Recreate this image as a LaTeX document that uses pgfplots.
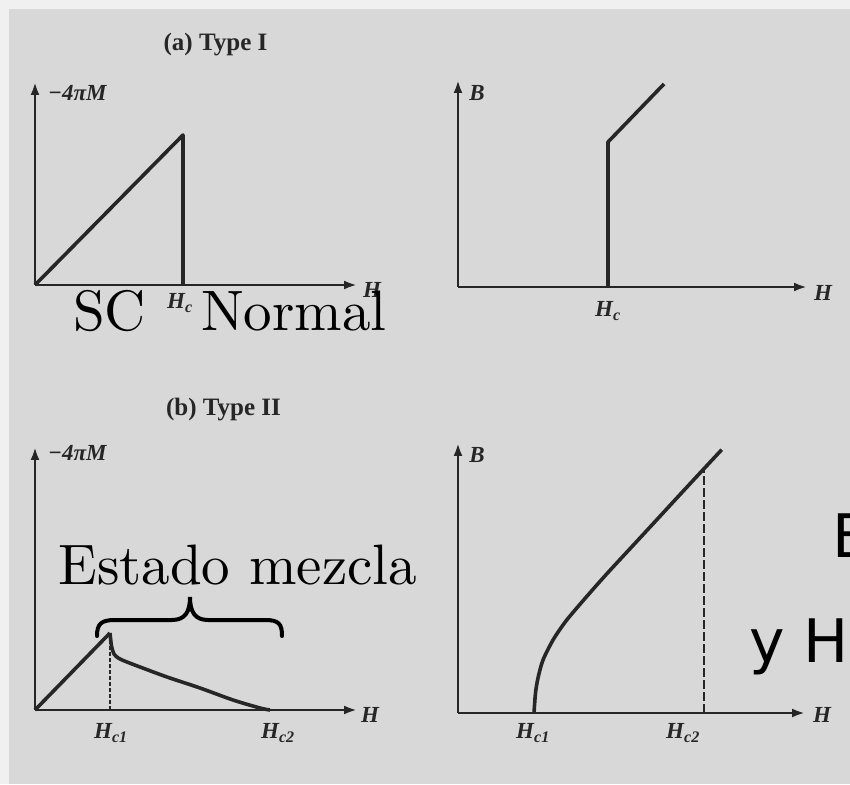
\documentclass[border=0pt]{standalone}
\usepackage{fontspec}
\usepackage{pgfplots}
\pgfplotsset{compat=1.18}
\usetikzlibrary{arrows.meta}

\newfontfamily\scanfont{Liberation Serif}
\newfontfamily\sansover{DejaVu Sans}
\newfontfamily\lmten{lmroman10-regular.otf}

\definecolor{paper}{HTML}{D8D8D8}
\definecolor{margin}{HTML}{F0F0F0}
\definecolor{ink}{HTML}{262626}

% labels of the printed figure
\newcommand{\lbl}[1]{{\scanfont\bfseries\itshape\fontsize{23}{25}\selectfont #1}}
\newcommand{\ttl}[1]{{\scanfont\bfseries\fontsize{25}{27}\selectfont #1}}
% hand-added annotations
\newcommand{\bigserif}[1]{{\lmten\fontsize{57}{61}\selectfont #1}}
\newcommand{\bigsans}[1]{{\sansover\fontsize{60}{64}\selectfont #1}}

\pgfplotsset{
  panel/.style={
    scale only axis, anchor=south west,
    axis lines=left, xmin=0, ymin=0,
    xtick=\empty, ytick=\empty, clip=false,
    axis line style={line width=2.6pt, draw=ink,
      -{Latex[length=13pt,width=9pt]}},
  },
  curve/.style={ink, line width=3.6pt, line join=round, no marks},
  guide/.style={ink, line width=1.8pt, no marks},
}

\begin{document}
\begin{tikzpicture}
\useasboundingbox (0pt,0pt) rectangle (850pt,784pt);
\clip (0pt,0pt) rectangle (850pt,784pt);
\fill[paper] (0pt,0pt) rectangle (850pt,784pt);
\fill[margin] (0pt,775pt) rectangle (850pt,784pt);
\fill[margin] (0pt,0pt) rectangle (9pt,784pt);

\tikzset{every node/.style={inner sep=0pt, text=ink}}

% (a) Type I: magnetization
\begin{axis}[panel, at={(35pt,499pt)}, width=322pt, height=203pt,
  xmax=322, ymax=203]
  \addplot[curve] coordinates {(0,0) (148,150) (148,0)};
  \node at (axis cs:180.5,240) {\ttl{(a) Type I}};
  \node[anchor=west] at (axis cs:13,192) {\lbl{−4πM}};
  \node at (axis cs:337,-5) {\lbl{H}};
  \node at (axis cs:145,-18) {\lbl{H\textsubscript{c}}};
\end{axis}

% (a) Type I: induction
\begin{axis}[panel, at={(458pt,497pt)}, width=349pt, height=207pt,
  xmax=349, ymax=207]
  \addplot[curve] coordinates {(150,0) (150,145) (206,203)};
  \node at (axis cs:19,194) {\lbl{B}};
  \node at (axis cs:365,-6) {\lbl{H}};
  \node at (axis cs:150,-24) {\lbl{H\textsubscript{c}}};
\end{axis}

% (b) Type II: magnetization
\begin{axis}[panel, at={(35pt,74pt)}, width=322pt, height=263pt,
  xmax=322, ymax=263]
  \addplot[curve] coordinates {(0,0) (75,77)};
  \addplot[curve, smooth] coordinates {(75,77) (76.5,64) (79,56) (84,51.5)
    (92,48) (105,43) (132,33) (165,22) (198,10) (225,2) (235,0)};
  \addplot[guide, dash pattern=on 4pt off 2pt] coordinates {(75,0) (75,77)};
  \node at (axis cs:188.5,300) {\ttl{(b) Type II}};
  \node[anchor=west] at (axis cs:13,257) {\lbl{−4πM}};
  \node at (axis cs:335,-5) {\lbl{H}};
  \node at (axis cs:76,-23) {\lbl{H\textsubscript{c1}}};
  \node at (axis cs:243,-23) {\lbl{H\textsubscript{c2}}};
\end{axis}

% (b) Type II: induction
\begin{axis}[panel, at={(458pt,71pt)}, width=347pt, height=270pt,
  xmax=347, ymax=270]
  \addplot[curve, smooth] coordinates {(76,0) (77.5,20) (80,35) (85,53)
    (95,73) (105,88) (112,97) (128.7,116.5) (150,140.5) (178.7,171.5)
    (205,200) (229,226) (246,244.3) (263.7,263.3)};
  \addplot[guide, dash pattern=on 9pt off 3pt] coordinates {(246,0) (246,244)};
  \node at (axis cs:19,258) {\lbl{B}};
  \node at (axis cs:364,-2) {\lbl{H}};
  \node at (axis cs:75,-20) {\lbl{H\textsubscript{c1}}};
  \node at (axis cs:225,-20) {\lbl{H\textsubscript{c2}}};
\end{axis}

% annotations
\node[anchor=base west, text=black] at (73pt,453pt) {\bigserif{SC}};
\node[anchor=base west, text=black] at (201pt,453pt) {\bigserif{Normal}};
\node[anchor=base west, text=black] at (58pt,199pt) {\bigserif{Estado mezcla}};
\draw[black, line width=4pt, line cap=round]
  (97pt,148pt) .. controls (97pt,160pt) and (101pt,164pt) .. (115pt,164pt)
  -- (172pt,164pt) .. controls (185pt,164pt) and (190pt,172pt) .. (190pt,187pt)
  .. controls (190pt,172pt) and (195pt,164pt) .. (208pt,164pt)
  -- (265pt,164pt) .. controls (279pt,164pt) and (282pt,160pt) .. (282pt,148pt);
\node[anchor=base west, text=black] at (832pt,226pt) {\bigsans{B}};
\node[anchor=base west, text=black] at (749pt,122pt) {\bigsans{y H}};
\end{tikzpicture}
\end{document}
